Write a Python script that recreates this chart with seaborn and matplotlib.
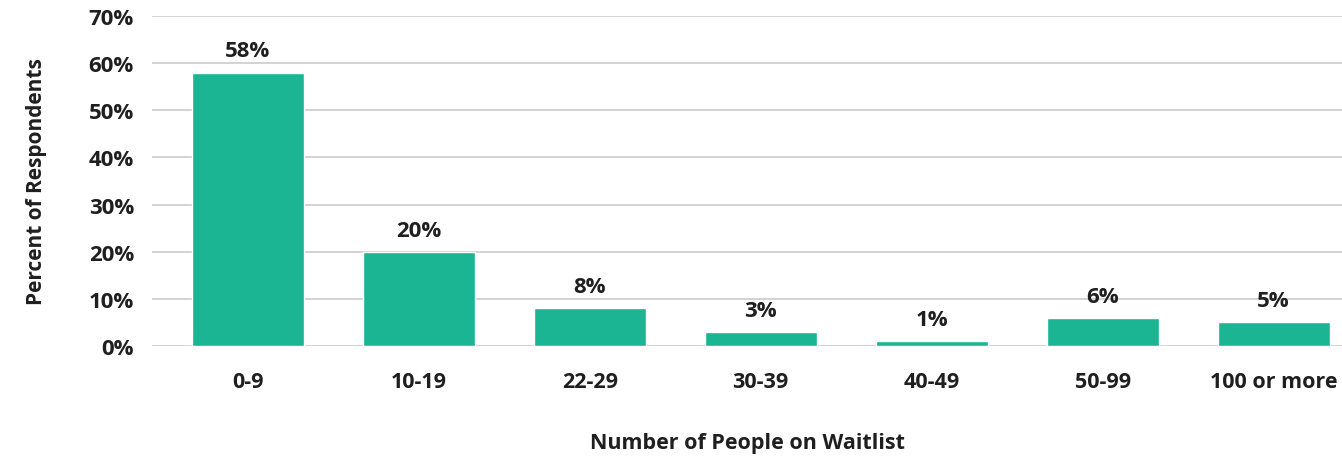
import matplotlib
matplotlib.use("Agg")
import matplotlib.pyplot as plt
import seaborn as sns
import pandas as pd

# Waitlist size survey results
categories = ["0-9", "10-19", "22-29", "30-39", "40-49", "50-99", "100 or more"]
percents = [58, 20, 8, 3, 1, 6, 5]
y_ticks = [0, 10, 20, 30, 40, 50, 60, 70]

sns.set_theme(style="white")
plt.rcParams["font.family"] = ["Open Sans", "DejaVu Sans"]

df = pd.DataFrame({"group": categories, "pct": percents})

fig = plt.figure(figsize=(13.42, 4.6), dpi=100)
ax = fig.add_axes([152 / 1342, 113 / 460, 1 - 152 / 1342, (347 - 17) / 460])

bar_color = "#1bb594"
text_color = "#1f1f1f"
fs = 16

sns.barplot(data=df, x="group", y="pct", color=bar_color, width=0.655,
            saturation=1, ax=ax, zorder=3)

ax.set_ylim(0, 70)
ax.set_xlim(-0.56, 6.4)
ax.set_yticks(y_ticks)
ax.set_yticklabels([f"{t}%" for t in y_ticks])
ax.yaxis.grid(True, color="#cfcfcf", linewidth=1.3, zorder=0)
ax.xaxis.grid(False)
for s in ax.spines.values():
    s.set_visible(False)

ax.tick_params(axis="y", length=0, pad=13, labelsize=fs, labelcolor=text_color)
ax.tick_params(axis="x", length=0, pad=18, labelsize=fs - 0.5, labelcolor=text_color)
for lab in ax.get_xticklabels() + ax.get_yticklabels():
    lab.set_fontweight("bold")

for i, v in enumerate(percents):
    ax.annotate(f"{v}%", xy=(i, v), xytext=(0, 8), textcoords="offset points",
                ha="center", va="bottom", fontsize=fs, fontweight="bold",
                color=text_color)

ax.set_xlabel("Number of People on Waitlist", fontsize=15.5, fontweight="bold",
              color=text_color, labelpad=29)
ax.set_ylabel("Percent of Respondents", fontsize=15, fontweight="bold",
              color=text_color, labelpad=30)

fig.savefig("out.png", dpi=100)
